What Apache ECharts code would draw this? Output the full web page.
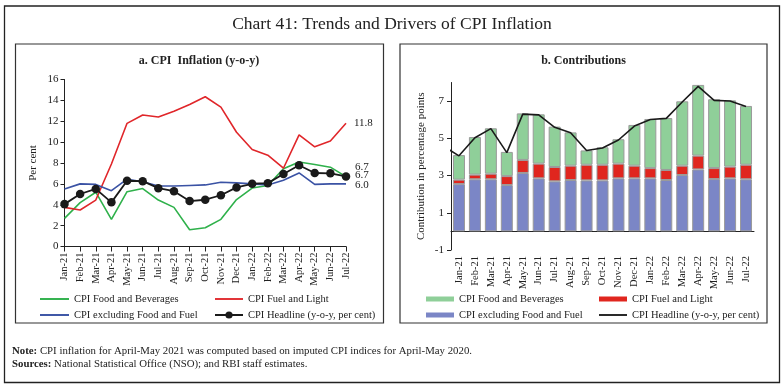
<!DOCTYPE html>
<html><head><meta charset="utf-8">
<script src="https://cdn.jsdelivr.net/npm/echarts@6/dist/echarts.min.js"></script>
<style>html,body{margin:0;padding:0;background:#fff}#c{width:784px;height:387px}</style>
</head><body><div id="c"></div>
<script>
// ---- Data ----
const months = ['Jan-21','Feb-21','Mar-21','Apr-21','May-21','Jun-21','Jul-21','Aug-21','Sep-21','Oct-21','Nov-21','Dec-21','Jan-22','Feb-22','Mar-22','Apr-22','May-22','Jun-22','Jul-22'];
// Panel a: y-o-y inflation (per cent)
const foodInfl = [2.7, 4.2, 5.2, 2.6, 5.25, 5.55, 4.45, 3.75, 1.6, 1.8, 2.6, 4.5, 5.6, 5.85, 7.45, 8.1, 7.85, 7.6, 6.7];
const fuelInfl = [3.75, 3.5, 4.45, 7.9, 11.8, 12.6, 12.4, 12.95, 13.6, 14.35, 13.35, 10.95, 9.3, 8.75, 7.5, 10.7, 9.55, 10.1, 11.8];
const coreInfl = [5.5, 6.0, 5.95, 5.35, 6.45, 6.2, 5.8, 5.8, 5.85, 5.9, 6.15, 6.1, 6.0, 5.9, 6.35, 7.05, 5.95, 6.0, 6.0];
const headline = [4.06, 5.03, 5.52, 4.23, 6.30, 6.26, 5.59, 5.30, 4.35, 4.48, 4.91, 5.66, 6.01, 6.07, 6.95, 7.79, 7.04, 7.01, 6.71];
const headlineDec20 = 4.59; // preceding month, clipped at the axis in panel b
// Panel b: contributions (percentage points)
const contribCore = [2.54, 2.80, 2.80, 2.49, 3.14, 2.85, 2.69, 2.76, 2.74, 2.74, 2.85, 2.85, 2.85, 2.76, 3.03, 3.33, 2.81, 2.85, 2.80];
const contribFuel = [0.24, 0.25, 0.30, 0.48, 0.70, 0.79, 0.77, 0.77, 0.84, 0.84, 0.79, 0.68, 0.55, 0.54, 0.50, 0.74, 0.59, 0.63, 0.78];
const contribFood = [1.32, 2.02, 2.44, 1.30, 2.50, 2.65, 2.17, 1.79, 0.77, 0.94, 1.31, 2.19, 2.64, 2.79, 3.46, 3.80, 3.70, 3.56, 3.16];
// Tick labels
const leftYTicks = [0, 2, 4, 6, 8, 10, 12, 14, 16];
const rightYTicks = [-1, 1, 3, 5, 7];
const rightYMax = 8;

// ---- Chart ----
const FONT = 'Liberation Serif';
const TXT = '#222';
const LINE_ICON = 'path://M0,0H30V2H0Z';
const chart = echarts.init(document.getElementById('c'), null, {renderer: 'canvas'});

const fmt1 = v => (Math.round(v * 10) / 10).toFixed(1);

const lineSeries = (name, data, color, labelOpts) => ({
  name: 'a:' + name, type: 'line', xAxisIndex: 0, yAxisIndex: 0,
  data: data,
  symbol: 'none', lineStyle: {color: color, width: 1.6}, itemStyle: {color: color},
  endLabel: Object.assign({show: true, formatter: () => fmt1(data[data.length - 1]), fontFamily: FONT, fontSize: 11, color: TXT}, labelOpts),
  z: 3
});

const rightLineData = [[-1, headlineDec20]].concat(headline.map((v, i) => {
  if (i === headline.length - 1) {
    return {value: [i, v], label: {show: true, position: 'top', distance: 3, formatter: fmt1(v), fontFamily: FONT, fontSize: 11, color: TXT}};
  }
  return [i, v];
}));

const legendBase = {
  orient: 'vertical', itemGap: 2, textStyle: {fontFamily: FONT, fontSize: 10.5, color: TXT, lineHeight: 14},
  formatter: n => n.slice(2), selectedMode: false
};
const lineIcon = name => ({name: name, icon: LINE_ICON});
const rectIcon = name => ({name: name, icon: 'rect', itemStyle: {borderWidth: 0}});

const option = {
  animation: false,
  backgroundColor: '#fff',
  graphic: [
    {type: 'rect', shape: {x: 4.5, y: 6, width: 775, height: 376.5}, style: {fill: 'none', stroke: '#222', lineWidth: 1.3}, silent: true},
    {type: 'rect', shape: {x: 15.5, y: 44, width: 368, height: 279}, style: {fill: 'none', stroke: '#333', lineWidth: 1.2}, silent: true},
    {type: 'rect', shape: {x: 400, y: 44, width: 367, height: 279}, style: {fill: 'none', stroke: '#333', lineWidth: 1.2}, silent: true},
    {type: 'text', left: 'center', top: 15, style: {text: 'Chart 41: Trends and Drivers of CPI Inflation', font: '17.5px "' + FONT + '"', fill: TXT}},
    {type: 'text', x: 199, y: 61, style: {text: 'a. CPI  Inflation (y-o-y)', font: 'bold 12px "' + FONT + '"', fill: TXT, align: 'center', verticalAlign: 'middle'}},
    {type: 'text', x: 583.5, y: 61, style: {text: 'b. Contributions', font: 'bold 12px "' + FONT + '"', fill: TXT, align: 'center', verticalAlign: 'middle'}},
    {type: 'text', x: 12, y: 351, style: {
      text: '{b|Note:} CPI inflation for April-May 2021 was computed based on imputed CPI indices for April-May 2020.',
      font: '10.8px "' + FONT + '"', fill: TXT, verticalAlign: 'middle',
      rich: {b: {fontWeight: 'bold', fontFamily: FONT, fontSize: 10.8, fill: TXT}}
    }},
    {type: 'text', x: 12, y: 364, style: {
      text: '{b|Sources:} National Statistical Office (NSO); and RBI staff estimates.',
      font: '10.8px "' + FONT + '"', fill: TXT, verticalAlign: 'middle',
      rich: {b: {fontWeight: 'bold', fontFamily: FONT, fontSize: 10.8, fill: TXT}}
    }}
  ],
  legend: [
    Object.assign({}, legendBase, {left: 35, top: 287, itemWidth: 29, itemHeight: 9, data: [lineIcon('a:CPI Food and Beverages'), lineIcon('a:CPI excluding Food and Fuel')]}),
    Object.assign({}, legendBase, {left: 209, top: 287, itemWidth: 28, itemHeight: 9, data: [lineIcon('a:CPI Fuel and Light'), 'a:CPI Headline (y-o-y, per cent)']}),
    Object.assign({}, legendBase, {left: 421, top: 287, itemWidth: 28, itemHeight: 5, data: [rectIcon('b:CPI Food and Beverages'), rectIcon('b:CPI excluding Food and Fuel')]}),
    Object.assign({}, legendBase, {left: 594, top: 287, itemWidth: 28, itemHeight: 5, data: [rectIcon('b:CPI Fuel and Light'), lineIcon('b:CPI Headline (y-o-y, per cent)')]})
  ],
  grid: [
    {left: 64.5, right: 438, top: 79.5, bottom: 140.5},
    {left: 451, right: 30, top: 82.5, bottom: 137}
  ],
  xAxis: [
    {gridIndex: 0, type: 'category', data: months, boundaryGap: false,
      axisLine: {onZero: false, lineStyle: {color: '#222', width: 1}},
      axisTick: {length: 5, lineStyle: {color: '#222'}},
      axisLabel: {rotate: 90, interval: 0, margin: 6, fontFamily: FONT, fontSize: 10.5, color: TXT},
      splitLine: {show: false}},
    {gridIndex: 1, type: 'category', data: months, position: 'bottom',
      axisLine: {show: false, onZero: false}, axisTick: {show: false},
      axisLabel: {rotate: 90, interval: 0, margin: 6, fontFamily: FONT, fontSize: 10.5, color: TXT},
      splitLine: {show: false}},
    {gridIndex: 1, type: 'category', data: months, position: 'bottom',
      axisLine: {onZero: true, lineStyle: {color: '#222', width: 1}},
      axisTick: {length: 5, interval: 0, lineStyle: {color: '#222'}},
      axisLabel: {show: false}, splitLine: {show: false}},
    {gridIndex: 1, type: 'value', min: -0.5, max: months.length - 0.5, show: false}
  ],
  yAxis: [
    {gridIndex: 0, type: 'value', min: leftYTicks[0], max: leftYTicks[leftYTicks.length - 1], interval: leftYTicks[1] - leftYTicks[0],
      name: 'Per cent', nameLocation: 'middle', nameGap: 26,
      nameTextStyle: {fontFamily: FONT, fontSize: 11, color: TXT},
      axisLine: {show: true, onZero: false, lineStyle: {color: '#222', width: 1}},
      axisTick: {show: true, length: 4, lineStyle: {color: '#222'}},
      axisLabel: {margin: 6, fontFamily: FONT, fontSize: 11, color: TXT},
      splitLine: {show: false}},
    {gridIndex: 1, type: 'value', min: rightYTicks[0], max: rightYMax, interval: rightYTicks[1] - rightYTicks[0],
      name: 'Contribution in percentage points', nameLocation: 'middle', nameGap: 24,
      nameTextStyle: {fontFamily: FONT, fontSize: 11, color: TXT},
      axisLine: {show: true, onZero: false, lineStyle: {color: '#222', width: 1}},
      axisTick: {show: true, length: 4, lineStyle: {color: '#222'}},
      axisLabel: {margin: 7, fontFamily: FONT, fontSize: 11, color: TXT, showMaxLabel: false},
      splitLine: {show: false}}
  ],
  series: [
    lineSeries('CPI Food and Beverages', foodInfl, '#2fb14b', {distance: 9, offset: [0, -9]}),
    lineSeries('CPI Fuel and Light', fuelInfl, '#e0262a', {distance: 8}),
    lineSeries('CPI excluding Food and Fuel', coreInfl, '#3a52a4', {distance: 9, offset: [0, 1]}),
    {name: 'a:CPI Headline (y-o-y, per cent)', type: 'line', xAxisIndex: 0, yAxisIndex: 0,
      data: headline,
      endLabel: {show: true, formatter: () => fmt1(headline[headline.length - 1]), distance: 9, offset: [0, -1], fontFamily: FONT, fontSize: 11, color: TXT},
      symbol: 'circle', symbolSize: 8.5, lineStyle: {color: '#1a1a1a', width: 1.8},
      itemStyle: {color: '#1a1a1a'}, z: 4},
    {name: 'b:CPI excluding Food and Fuel', type: 'bar', stack: 'c', xAxisIndex: 1, yAxisIndex: 1,
      data: contribCore, barWidth: 12, itemStyle: {color: '#7b86c6', borderColor: '#9a9a9a', borderWidth: 1}},
    {name: 'b:CPI Fuel and Light', type: 'bar', stack: 'c', xAxisIndex: 1, yAxisIndex: 1,
      data: contribFuel, barWidth: 12, itemStyle: {color: '#e0261e', borderColor: '#9a9a9a', borderWidth: 1}},
    {name: 'b:CPI Food and Beverages', type: 'bar', stack: 'c', xAxisIndex: 1, yAxisIndex: 1,
      data: contribFood, barWidth: 12, itemStyle: {color: '#8fcf99', borderColor: '#9a9a9a', borderWidth: 1}},
    {name: 'b:CPI Headline (y-o-y, per cent)', type: 'line', xAxisIndex: 3, yAxisIndex: 1,
      data: rightLineData, symbol: 'none', clip: true,
      lineStyle: {color: '#1a1a1a', width: 1.6}, itemStyle: {color: '#1a1a1a'}, z: 5}
  ]
};
chart.setOption(option);
</script></body></html>
